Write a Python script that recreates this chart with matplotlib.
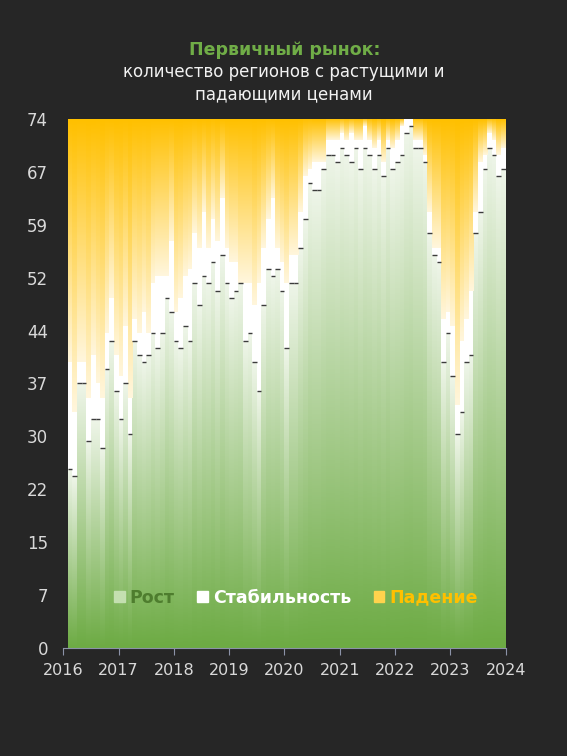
import matplotlib.pyplot as plt
import numpy as np
from matplotlib.colors import LinearSegmentedColormap
from matplotlib.patches import Patch

# регионов всего
total = 74
# месяцы с февраля 2016 по декабрь 2023
months = np.arange(1, 96)
growth = [25, 24, 37, 37, 29, 32, 32, 28, 39, 43, 36, 32, 37, 30, 43, 41, 40, 41, 44, 42,
          44, 49, 47, 43, 42, 45, 43, 51, 48, 52, 51, 54, 50, 55, 51, 49, 50, 51, 43, 44,
          40, 36, 48, 53, 52, 53, 50, 42, 51, 51, 56, 60, 65, 64, 64, 67, 69, 69, 68, 70,
          69, 68, 70, 67, 70, 69, 67, 69, 66, 70, 67, 68, 69, 72, 73, 70, 70, 68, 58, 55,
          54, 40, 44, 38, 30, 33, 40, 41, 58, 61, 67, 70, 69, 66, 67]
stable = [15, 9, 3, 3, 6, 9, 5, 7, 5, 6, 5, 6, 8, 5, 3, 3, 7, 3, 7, 10,
          8, 3, 10, 4, 7, 7, 10, 7, 8, 9, 5, 6, 7, 8, 5, 5, 4, 0, 8, 7,
          8, 15, 8, 7, 11, 3, 4, 9, 4, 4, 5, 6, 2, 4, 4, 1, 2, 2, 3, 2,
          2, 4, 1, 4, 3, 2, 3, 2, 2, 1, 3, 3, 4, 2, 1, 1, 1, 1, 3, 1,
          2, 6, 3, 7, 4, 10, 6, 9, 3, 7, 2, 2, 2, 3, 3]
years = list(range(2016, 2025))

growth = np.array(growth)
stable = np.array(stable)
fall = total - growth - stable

bg = '#262626'
green_cm = LinearSegmentedColormap.from_list('g', ['#6DAB44', '#EEF5E8'])
orange_cm = LinearSegmentedColormap.from_list('o', ['#FFF6DC', '#FFC000'])
grad = np.linspace(0, 1, 100).reshape(-1, 1)

fig = plt.figure(figsize=(5.67, 7.56), dpi=100, facecolor=bg)
ax = fig.add_axes([0.1116, 0.1429, 0.7802, 0.6997])
ax.set_facecolor(bg)

b_g = ax.bar(months, growth, width=1, align='edge', color='none', linewidth=0)
b_s = ax.bar(months, stable, bottom=growth, width=1, align='edge', color='white', linewidth=0)
b_f = ax.bar(months, fall, bottom=growth + stable, width=1, align='edge', color='none', linewidth=0)

for bars, cm in ((b_g, green_cm), (b_f, orange_cm)):
    for r in bars:
        if r.get_height() <= 0:
            continue
        x0, y0 = r.get_x(), r.get_y()
        ax.imshow(grad, extent=[x0, x0 + r.get_width(), y0, y0 + r.get_height()],
                  origin='lower', cmap=cm, aspect='auto', interpolation='bilinear')

# тёмные штрихи на верхушках зелёных столбцов
ax.hlines(growth, months, months + 1, colors='#3c3c3c', linewidth=1)

ax.set_xlim(0, 96)
ax.set_ylim(0, total)
ax.set_xticks(np.arange(0, 97, 12))
ax.set_xticklabels([str(y) for y in years])
yt = np.linspace(0, total, 11)
ax.set_yticks(yt)
ax.set_yticklabels([f'{v:.0f}' for v in yt])
ax.tick_params(axis='y', length=0, pad=11, labelsize=12, labelcolor='#D9D9D9')
ax.tick_params(axis='x', length=5, direction='out', color='#8C93A8', pad=6,
               labelsize=11.5, labelcolor='#D9D9D9')
for s in ('top', 'right', 'left'):
    ax.spines[s].set_visible(False)
ax.spines['bottom'].set_color('#8C93A8')

handles = [Patch(color='#C4DFB0'), Patch(color='white'), Patch(color='#FFD34D')]
leg = ax.legend(handles, ['Рост', 'Стабильность', 'Падение'], loc='center',
                bbox_to_anchor=(0.526, 0.095), ncol=3, frameon=False,
                handlelength=0.6, handleheight=0.6, handletextpad=0.3, columnspacing=1.3,
                prop={'weight': 'bold', 'size': 12.5})
for t, c in zip(leg.get_texts(), ['#4E7D2E', 'white', '#FFC000']):
    t.set_color(c)

fig.text(0.502, 0.934, 'Первичный рынок:', ha='center', va='center', color='#70AD47',
         fontsize=12.5, fontweight='bold')
fig.text(0.5, 0.890, 'количество регионов с растущими и\nпадающими ценами', ha='center',
         va='center', color='#F2F2F2', fontsize=12, linespacing=1.25)

fig.savefig('out.png', dpi=100, facecolor=bg)
